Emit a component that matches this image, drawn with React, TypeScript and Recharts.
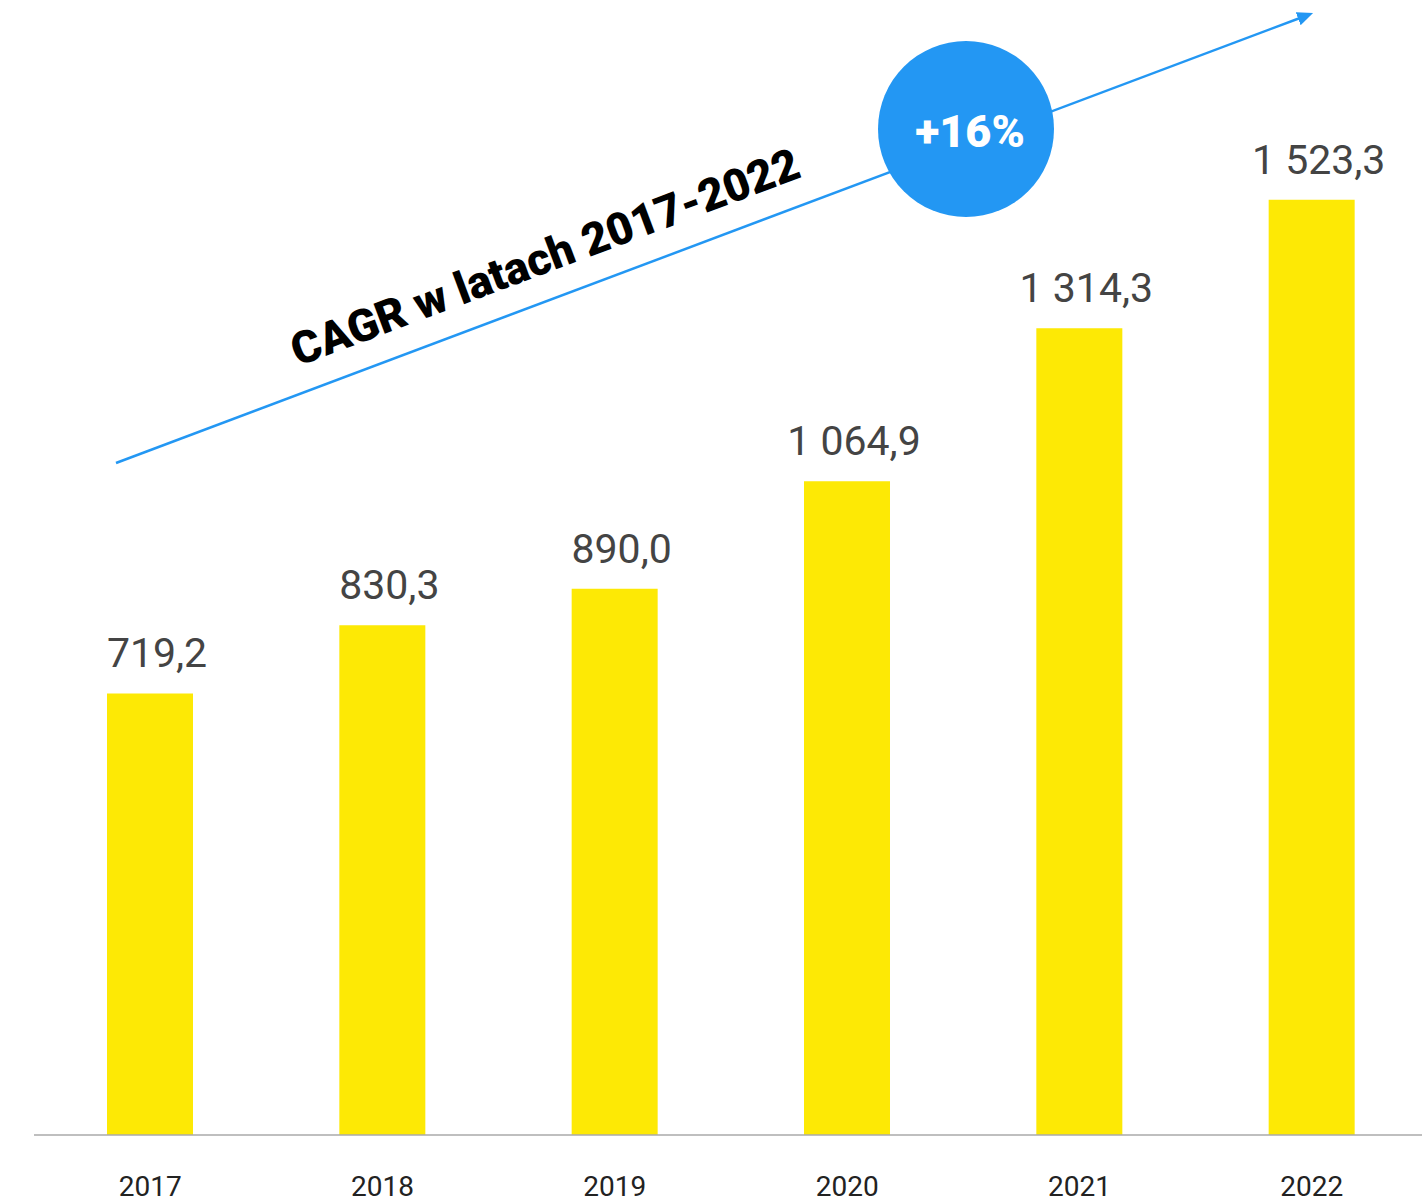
import React from "react";
import { BarChart, Bar, XAxis, YAxis, LabelList, Customized } from "recharts";

const years = ["2017", "2018", "2019", "2020", "2021", "2022"];
const values = [719.2, 830.3, 890.0, 1064.9, 1314.3, 1523.3];
const valueLabels = ["719,2", "830,3", "890,0", "1 064,9", "1 314,3", "1 523,3"];

const cagrText = "CAGR w latach 2017-2022";
const cagrValue = "+16%";

const chartData = years.map((year, i) => ({
  year,
  value: values[i],
  label: valueLabels[i],
}));

const BLUE = "#2397F3";
const YELLOW = "#FDE905";
const FONT = "Roboto, 'Open Sans', sans-serif";

// arrow + bubble drawn on top of the bars
const CagrOverlay = () => {
  const x1 = 116, y1 = 463, x2 = 1300, y2 = 18;
  const angle = (Math.atan2(y2 - y1, x2 - x1) * 180) / Math.PI;
  return (
    <g>
      <defs>
        <marker id="arrowHead" markerWidth="16" markerHeight="14" refX="2" refY="7" orient="auto" markerUnits="userSpaceOnUse">
          <path d="M0,0 L16,7 L0,14 z" fill={BLUE} />
        </marker>
      </defs>
      <line x1={x1} y1={y1} x2={x2} y2={y2} stroke={BLUE} strokeWidth={2.5} markerEnd="url(#arrowHead)" />
      <text
        x={545}
        y={257}
        transform={`rotate(${angle} 545 257)`}
        textAnchor="middle"
        dominantBaseline="central"
        fontFamily={FONT}
        fontWeight={900}
        fontSize={45}
        fill="#000"
      >
        {cagrText}
      </text>
      <circle cx={966} cy={129} r={88} fill={BLUE} />
      <text
        x={970}
        y={131}
        textAnchor="middle"
        dominantBaseline="central"
        fontFamily={FONT}
        fontWeight={900}
        fontSize={45}
        fill="#fff"
      >
        {cagrValue}
      </text>
    </g>
  );
};

export default function App() {
  return (
    <div style={{ position: "absolute", left: 0, top: 0, width: 1422, height: 1202, overflow: "hidden", background: "#fff" }}>
      <BarChart
        width={1428}
        height={1202}
        data={chartData}
        margin={{ top: 30, right: 0, left: 34, bottom: 7 }}
        barCategoryGap={0}
      >
        <XAxis
          dataKey="year"
          axisLine={{ stroke: "#aaaaaa", strokeWidth: 1.5 }}
          tickLine={false}
          height={60}
          tickMargin={35}
          tick={{ fill: "#222", fontSize: 28, fontFamily: FONT }}
          interval={0}
        />
        <YAxis hide domain={[0, 1800]} />
        <Bar dataKey="value" fill={YELLOW} barSize={86} isAnimationActive={false}>
          <LabelList
            dataKey="label"
            position="top"
            offset={26}
            dx={7}
            fill="#444"
            fontSize={41}
            fontFamily={FONT}
          />
        </Bar>
        <Customized component={CagrOverlay} />
      </BarChart>
    </div>
  );
}
